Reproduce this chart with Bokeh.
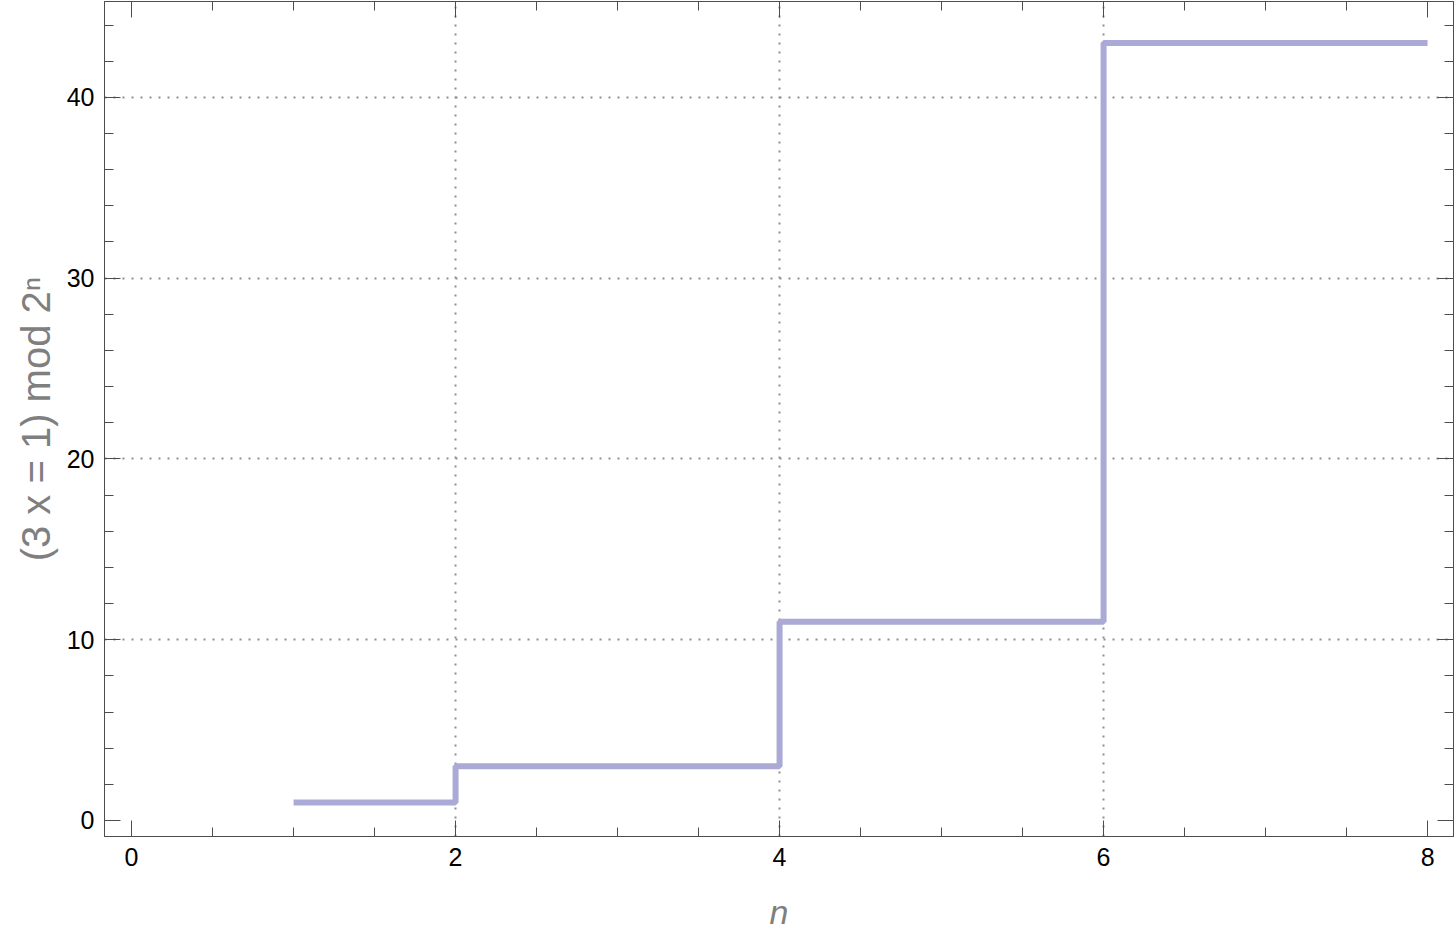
from bokeh.plotting import figure
from bokeh.models import SingleIntervalTicker, FixedTicker, LinearAxis, Range1d
from bokeh.embed import file_html
from bokeh.resources import INLINE

# data
n_values = [1, 2, 3, 4, 5, 6, 7, 8]
residues = [1, 3, 3, 11, 11, 43, 43, 43]
x_grid_ticks = [2, 4, 6]
y_grid_ticks = [10, 20, 30, 40]

FONT = "Liberation Sans"
AXIS_COLOR = "#4d4d4d"

p = figure(width=1454, height=938, output_backend="svg", toolbar_location=None,
           x_range=Range1d(-0.167, 8.16), y_range=Range1d(-0.885, 45.3),
           min_border_left=104, min_border_right=1, min_border_top=1, min_border_bottom=102)

p.step(n_values, residues, mode="after", line_color="#abaad6", line_width=6)

p.outline_line_color = AXIS_COLOR
p.outline_line_width = 1

# grids
p.xgrid.ticker = FixedTicker(ticks=x_grid_ticks)
p.ygrid.ticker = FixedTicker(ticks=y_grid_ticks)
for g in (p.xgrid, p.ygrid):
    g.grid_line_color = "#8f8f8f"
    g.grid_line_width = 2
    g.grid_line_dash = "2 7"

xt = SingleIntervalTicker(interval=2, num_minor_ticks=4)
yt = SingleIntervalTicker(interval=10, num_minor_ticks=5)

bottom = p.below[0]
left = p.left[0]
top = LinearAxis(ticker=xt)
right = LinearAxis(ticker=yt)
p.add_layout(top, "above")
p.add_layout(right, "right")

for ax, tk in ((bottom, xt), (left, yt), (top, xt), (right, yt)):
    ax.ticker = tk
    ax.axis_line_color = AXIS_COLOR
    ax.major_tick_line_color = AXIS_COLOR
    ax.minor_tick_line_color = AXIS_COLOR
    ax.major_tick_in = 16
    ax.major_tick_out = 0
    ax.minor_tick_in = 9
    ax.minor_tick_out = 0
    ax.major_label_text_font = FONT
    ax.major_label_text_font_size = "25px"
    ax.major_label_text_color = "#000000"

for ax in (top, right):
    ax.major_label_text_font_size = "0px"
    ax.major_label_text_color = None
    ax.major_label_standoff = 0
    ax.axis_label = None

bottom.major_label_standoff = 11
left.major_label_standoff = 10

bottom.axis_label = "n"
bottom.axis_label_text_font = FONT
bottom.axis_label_text_font_style = "italic"
bottom.axis_label_text_font_size = "34px"
bottom.axis_label_text_color = "#7f7f7f"
bottom.axis_label_standoff = 24

left.axis_label = "(3 x = 1) mod 2ⁿ"
left.axis_label_text_font = FONT
left.axis_label_text_font_style = "normal"
left.axis_label_text_font_size = "40px"
left.axis_label_text_color = "#7f7f7f"
left.axis_label_standoff = 6

open("out.html", "w").write(file_html(p, INLINE))
